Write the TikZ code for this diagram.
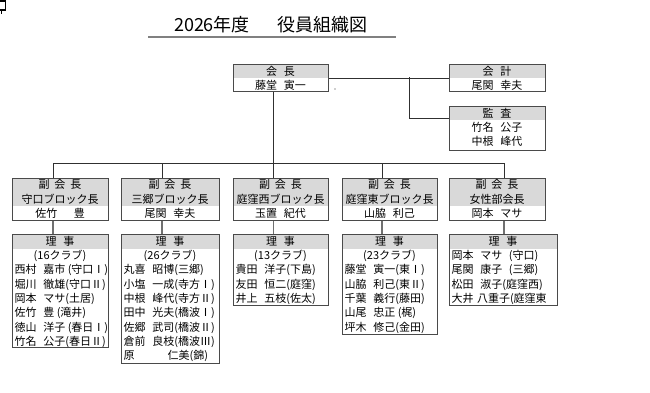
\documentclass[tikz,border=0pt]{standalone}
\usepackage{fontspec}
\setmainfont{Noto Sans CJK JP}
\definecolor{hdrc}{HTML}{D9D9D9}
\definecolor{boxc}{HTML}{4A4A4A}
\definecolor{linec}{HTML}{303030}
\definecolor{lineg}{HTML}{707070}
\definecolor{ulc}{HTML}{808080}
\newcommand\orgbox[6]{%
  \fill[hdrc] (#2,#3) rectangle (#4,#6);
  \node[box, minimum width=#4pt-#2pt, minimum height=#5pt-#3pt] (#1) at (#2,#3) {};}
\newcommand\jsp{\hspace{0.6em}}
\begin{document}
\begin{tikzpicture}[x=1pt,y=-1pt,
  box/.style={draw=boxc, line width=1.3pt, rectangle, inner sep=0pt, anchor=north west},
  conn/.style={draw=linec, line width=1pt},
  conng/.style={draw=lineg, line width=1.2pt},
  lbl/.style={font=\fontsize{11}{12}\selectfont, inner sep=0pt},
  entry/.style={lbl, anchor=west},
  ttl/.style={font=\fontsize{18}{20}\selectfont, inner sep=0pt}]
\fill[white] (0,0) rectangle (650,393);
\useasboundingbox (0,0) rectangle (650,393);
% corner mark
\draw[black, line width=1.3pt] (0,1) -- (5.5,1) -- (5.5,10) -- (0,10);
\draw[black, line width=1.3pt] (1.5,10) -- (1.5,14);
% title
\node[ttl] (title) at (271,25) {2026年度\hspace{28pt}役員組織図};
\draw[ulc, line width=2.2pt] (148,37) -- (396,37);
% boxes
\orgbox{kaicho}{233}{64}{328}{91}{78}
\orgbox{kaikei}{449}{64}{545}{91}{78}
\orgbox{kansa}{449}{106}{545}{150}{120}
\orgbox{vp1}{12}{178}{108}{220}{206}
\orgbox{vp2}{121}{178}{219}{220}{206}
\orgbox{vp3}{233}{178}{328}{220}{206}
\orgbox{vp4}{342}{178}{437}{220}{206}
\orgbox{vp5}{449}{178}{545}{220}{206}
\orgbox{r1}{12}{234}{108}{347}{249}
\orgbox{r2}{121}{234}{219}{363}{249}
\orgbox{r3}{233}{234}{328}{305}{249}
\orgbox{r4}{342}{234}{437}{334}{249}
\orgbox{r5}{449}{234}{557}{305}{249}
% top texts
\node[lbl] (kaicho-h) at (280.5,71) {会\hspace{0.6em}長};
\node[lbl] (kaicho-n) at (280.5,85) {藤堂\jsp 寅一};
\node[lbl] (kaikei-h) at (497,71) {会\hspace{0.6em}計};
\node[lbl] (kaikei-n) at (497,85) {尾関\jsp 幸夫};
\node[lbl] (kansa-h) at (497,113) {監\hspace{0.6em}査};
\node[lbl] (kansa-n1) at (497,127.5) {竹名\jsp 公子};
\node[lbl] (kansa-n2) at (497,141.5) {中根\jsp 峰代};
% vice presidents
\foreach \n/\x/\b/\p in {1/60/守口ブロック長/佐竹\hspace{1.5em}豊,
                         2/170/三郷ブロック長/尾関\jsp 幸夫,
                         3/280.5/庭窪西ブロック長/玉置\jsp 紀代,
                         4/389.5/庭窪東ブロック長/山脇\jsp 利己,
                         5/497/女性部会長/岡本\jsp マサ}{
  \node[lbl] (vp\n-a) at (\x,184) {副\hspace{0.45em}会\hspace{0.45em}長};
  \node[lbl] (vp\n-b) at (\x,199) {\b};
  \node[lbl] (vp\n-c) at (\x,213) {\p};
}
% board headers
\foreach \n/\x in {1/60,2/170,3/280.5,4/389.5,5/503}{
  \node[lbl] (r\n-h) at (\x,241.5) {理\hspace{0.6em}事};
}
\node[lbl] (r1-c) at (60,256) {(16クラブ)};
\node[lbl] (r2-c) at (170,256) {(26クラブ)};
\node[lbl] (r3-c) at (280.5,256) {(13クラブ)};
\node[lbl] (r4-c) at (389.5,256) {(23クラブ)};
\foreach \t [count=\i] in {西村\jsp 嘉市 (守口Ⅰ), 堀川\jsp 徹雄(守口Ⅱ), 岡本\jsp マサ(土居),
   佐竹\jsp 豊 (滝井), 徳山\jsp 洋子 (春日Ⅰ), 竹名\jsp 公子(春日Ⅱ)}
  \node[entry] (r1-\i) at (14.5,{256+14.3*\i}) {\t};
\foreach \t [count=\i] in {丸喜\jsp 昭博(三郷), 小塩\jsp 一成(寺方Ⅰ), 中根\jsp 峰代(寺方Ⅱ),
   田中\jsp 光夫(橋波Ⅰ), 佐郷\jsp 武司(橋波Ⅱ), 倉前\jsp 良枝(橋波Ⅲ), 原\hspace{3em}仁美(錦)}
  \node[entry] (r2-\i) at (123.5,{256+14.3*\i}) {\t};
\foreach \t [count=\i] in {貴田\jsp 洋子(下島), 友田\jsp 恒二(庭窪), 井上\jsp 五枝(佐太)}
  \node[entry] (r3-\i) at (235.5,{256+14.3*\i}) {\t};
\foreach \t [count=\i] in {藤堂\jsp 寅一(東Ⅰ), 山脇\jsp 利己(東Ⅱ), 千葉\jsp 義行(藤田),
   山尾\jsp 忠正 (梶), 坪木\jsp 修己(金田)}
  \node[entry] (r4-\i) at (344.5,{256+14.3*\i}) {\t};
\foreach \t [count=\i from 0] in {岡本\jsp マサ\hspace{0.6em}(守口), 尾関\jsp 康子\hspace{0.6em}(三郷),
   松田\jsp 淑子(庭窪西), 大井\hspace{0.3em}八重子(庭窪東}
  \node[entry] (r5-\i) at (451.5,{256+14.3*\i}) {\t};
% connectors
\draw[conn] (kaicho.east) -- (kaikei.west);
\coordinate (kj) at (409,77.5);
\coordinate (kj2) at (409,119);
\draw[conn] (kj) -- (kj2) -- (kj2 -| kansa.west);
\fill[linec] (335,89) circle (0.6);
\coordinate (busL) at (53,163);
\coordinate (busR) at (504,163);
\coordinate (kd) at (273.5,163);
\draw[conn] (kaicho.south -| kd) -- (kd);
\draw[conn] (busL) -- (busR);
\foreach \n/\x in {1/53,2/162,3/273.5,4/382,5/504}{
  \coordinate (t\n) at (\x,163);
  \draw[conn] (t\n) -- (t\n |- vp\n.north);
  \draw[conng] (t\n |- vp\n.south) -- (t\n |- r\n.north);
}
\end{tikzpicture}
\end{document}
